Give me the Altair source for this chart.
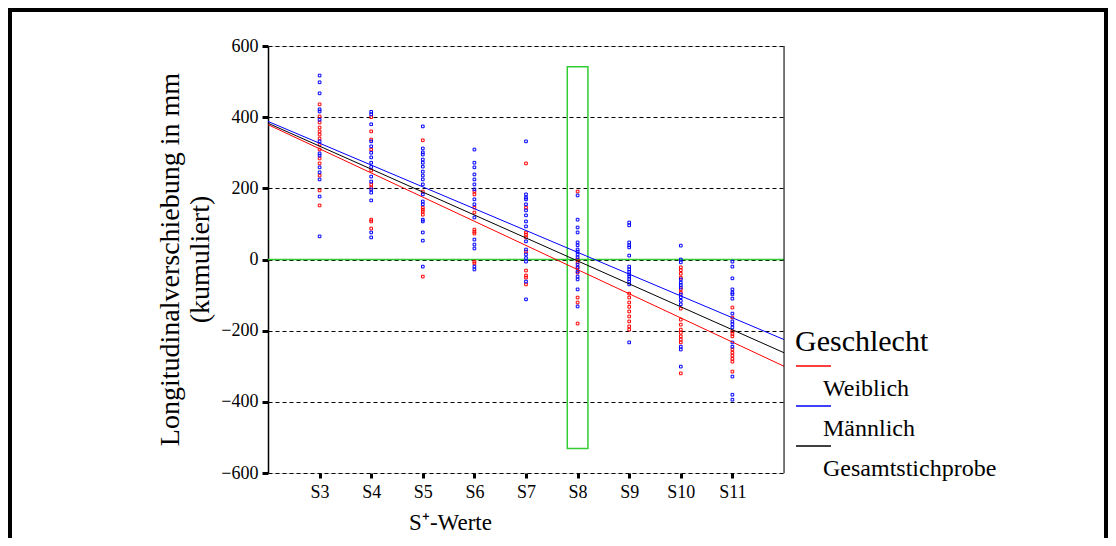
import altair as alt
import pandas as pd

FONT = "Liberation Serif"

# ---- data ----------------------------------------------------------------
categories = ["S3", "S4", "S5", "S6", "S7", "S8", "S9", "S10", "S11"]
cat_pos = [3, 4, 5, 6, 7, 8, 9, 10, 11]

weiblich_values = [
    [436, 402, 385, 371, 360, 351, 340, 323, 309, 284, 270, 236, 194, 152],
    [400, 360, 337, 309, 250, 211, 202, 112, 107, 87],
    [335, 191, 146, 140, 135, 126, -48],
    [191, 183, 146, 132, 84, 78, 73, -6, -11],
    [270, 146, 76, 70, 62, 22, -31, -45, -51, -70],
    [191, 0, -8, -22, -37, -107, -121, -180],
    [-96, -107, -121, -133, -146, -160, -174, -188, -197],
    [-22, -30, -40, -51, -84, -93, -138, -169, -183, -197, -206, -216, -225, -233, -320],
    [-135, -163, -202, -209, -216, -253, -262, -270, -279, -287, -315],
]
maennlich_values = [
    [517, 498, 467, 422, 416, 393, 332, 298, 292, 259, 245, 225, 177, 65],
    [415, 408, 380, 332, 318, 300, 287, 272, 260, 233, 219, 197, 188, 166, 76, 62],
    [374, 312, 301, 295, 281, 272, 261, 247, 236, 225, 211, 183, 163, 155, 112, 107, 76, 53, -20],
    [309, 272, 259, 239, 225, 211, 197, 169, 155, 118, 56, 42, 31, -20, -28],
    [332, 183, 174, 169, 155, 138, 124, 107, 93, 51, 28, 14, 4, -6, -62, -112],
    [180, 112, 90, 76, 48, 40, 28, 22, 14, 6, -14, -24, -34, -48, -56, -84, -132],
    [104, 96, 48, 40, 34, 11, -20, -28, -35, -42, -48, -55, -62, -70, -233],
    [39, 0, -8, -56, -65, -72, -79, -98, -106, -116, -126, -245, -253, -301],
    [-6, -20, -53, -84, -93, -98, -110, -152, -174, -182, -191, -233, -245, -329, -380, -394],
]

line_groups = ["Weiblich", "Männlich", "Gesamtstichprobe"]
line_colors = ["#ff0000", "#0000ff", "#000000"]
line_x_start = 2
line_x_end = 12
line_y_start = [379, 388, 383]
line_y_end = [-300, -225, -262]

highlight_x = [7.8, 8.2]
highlight_y = [-531, 542]

y_ticks = [-600, -400, -200, 0, 200, 400, 600]
x_domain = [2, 12]
y_domain = [-600, 600]

# ---- tables --------------------------------------------------------------
def flatten(values):
    xs, ys = [], []
    for p, vals in zip(cat_pos, values):
        for v in vals:
            xs.append(p)
            ys.append(v)
    return pd.DataFrame({"x": xs, "y": ys})

df_w = flatten(weiblich_values)
df_m = flatten(maennlich_values)

df_lines = pd.DataFrame({
    "grp": line_groups * 2,
    "x": [line_x_start] * 3 + [line_x_end] * 3,
    "y": line_y_start + line_y_end,
})
df_rect = pd.DataFrame({"x": [highlight_x[0]], "x2": [highlight_x[1]],
                        "y": [highlight_y[0]], "y2": [highlight_y[1]]})
one = pd.DataFrame({"k": [0]})

xscale = alt.Scale(domain=x_domain, nice=False, zero=False)
yscale = alt.Scale(domain=y_domain, nice=False, zero=False)

x_axis = alt.Axis(values=cat_pos, labelExpr="'S' + datum.value", grid=False, domain=False,
                  tickColor="black", tickSize=5, tickWidth=3, labelFontSize=18,
                  labelFont=FONT, labelColor="black", labelPadding=5,
                  title="S⁺-Werte", titleFont=FONT, titleFontSize=23, titleFontWeight="normal",
                  titleColor="black", titleX=182, titleY=56, titleBaseline="alphabetic",
                  titleAlign="center")
y_axis = alt.Axis(values=y_ticks, grid=True, gridColor="black", gridDash=[4, 3], gridWidth=1,
                  domainColor="black", domainWidth=1.5, tickColor="black", tickSize=6,
                  tickWidth=3, labelFontSize=18, labelFont=FONT, labelColor="black",
                  labelPadding=4,
                  title=["Longitudinalverschiebung in mm", "(kumuliert)"],
                  titleFont=FONT, titleFontSize=28, titleFontWeight="normal", titleColor="black",
                  titleX=-98, titleY=213, titleAngle=270, titleBaseline="middle",
                  titleAlign="center", titleLineHeight=30)

base_x = alt.X("x:Q", scale=xscale, axis=x_axis)
base_y = alt.Y("y:Q", scale=yscale, axis=y_axis)

axes_layer = alt.Chart(df_w).mark_point(opacity=0).encode(x=base_x, y=base_y)

zero_line = alt.Chart(one).mark_rule(color="#33cc33", strokeWidth=1.5).encode(
    x=alt.datum(x_domain[0]), x2=alt.datum(x_domain[1]), y=alt.datum(0))

right_border = alt.Chart(one).mark_rule(color="black", strokeWidth=1).encode(
    x=alt.datum(x_domain[1]), y=alt.datum(y_domain[0]), y2=alt.datum(y_domain[1]))

rect = alt.Chart(df_rect).mark_rect(fill=None, stroke="#33cc33", strokeWidth=1.5).encode(
    x="x:Q", x2="x2:Q", y="y:Q", y2="y2:Q")

pts_w = alt.Chart(df_w).mark_point(shape="square", filled=False, size=7, strokeWidth=1,
                                   color="#ff0000", opacity=1).encode(x="x:Q", y="y:Q")
pts_m = alt.Chart(df_m).mark_point(shape="square", filled=False, size=7, strokeWidth=1,
                                   color="#0000ff", opacity=1).encode(x="x:Q", y="y:Q")

# legend line symbol: drawn above its label, extending a bit under the label start
legend_symbol = "M-1,-0.85L1.69,-0.85"

lines = alt.Chart(df_lines).mark_line(strokeWidth=1).encode(
    x="x:Q", y="y:Q",
    color=alt.Color("grp:N", sort=line_groups,
                    scale=alt.Scale(domain=line_groups, range=line_colors),
                    legend=alt.Legend(title="Geschlecht", orient="none", legendX=527, legendY=281,
                                      padding=0, symbolType=legend_symbol, symbolSize=676,
                                      symbolStrokeWidth=1.5, titleFont=FONT, titleFontSize=30,
                                      titleFontWeight="normal", titleColor="black",
                                      titlePadding=6, labelFont=FONT, labelFontSize=24,
                                      labelColor="black", labelBaseline="top",
                                      labelOffset=0, rowPadding=1,
                                      labelLimit=300)))

frame_top = alt.Chart(one).mark_rule(color="black", strokeWidth=4).encode(
    x=alt.value(-260), x2=alt.value(840), y=alt.value(-36))
frame_left = alt.Chart(one).mark_rule(color="black", strokeWidth=4).encode(
    x=alt.value(-258), y=alt.value(-38), y2=alt.value(500))
frame_right = alt.Chart(one).mark_rule(color="black", strokeWidth=4).encode(
    x=alt.value(838), y=alt.value(-38), y2=alt.value(500))

chart = alt.layer(
    axes_layer, zero_line, rect, pts_w, pts_m, lines, right_border,
    frame_top, frame_left, frame_right,
).properties(
    width=516, height=427,
    autosize=alt.AutoSizeParams(type="none"),
    padding={"left": 260, "top": 38, "right": 324, "bottom": 65},
).configure_view(stroke=None).configure(background="white")

chart.save("out.html", embed_options={"renderer": "svg", "actions": False})
